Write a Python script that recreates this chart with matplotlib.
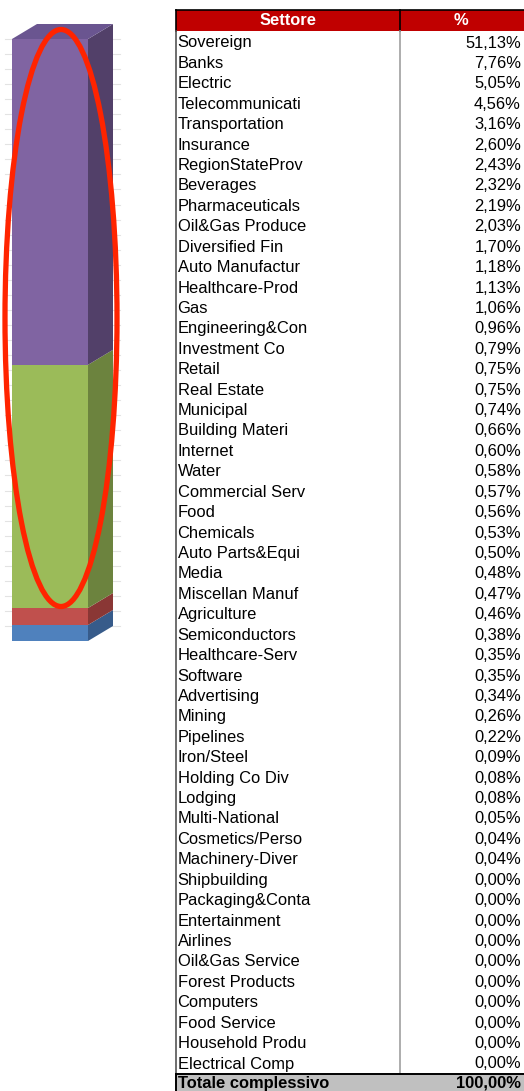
import matplotlib
matplotlib.use("Agg")
import matplotlib.pyplot as plt
from matplotlib.patches import Rectangle, Polygon, Ellipse

plt.rcParams['font.family'] = ['Liberation Sans', 'DejaVu Sans']

# ---- data ----
settori = ["Sovereign", "Banks", "Electric", "Telecommunicati", "Transportation",
           "Insurance", "RegionStateProv", "Beverages", "Pharmaceuticals",
           "Oil&Gas Produce", "Diversified Fin", "Auto Manufactur", "Healthcare-Prod",
           "Gas", "Engineering&Con", "Investment Co", "Retail", "Real Estate",
           "Municipal", "Building Materi", "Internet", "Water", "Commercial Serv",
           "Food", "Chemicals", "Auto Parts&Equi", "Media", "Miscellan Manuf",
           "Agriculture", "Semiconductors", "Healthcare-Serv", "Software",
           "Advertising", "Mining", "Pipelines", "Iron/Steel", "Holding Co Div",
           "Lodging", "Multi-National", "Cosmetics/Perso", "Machinery-Diver",
           "Shipbuilding", "Packaging&Conta", "Entertainment", "Airlines",
           "Oil&Gas Service", "Forest Products", "Computers", "Food Service",
           "Household Produ", "Electrical Comp"]
percentuali = [51.13, 7.76, 5.05, 4.56, 3.16, 2.60, 2.43, 2.32, 2.19, 2.03,
               1.70, 1.18, 1.13, 1.06, 0.96, 0.79, 0.75, 0.75, 0.74, 0.66,
               0.60, 0.58, 0.57, 0.56, 0.53, 0.50, 0.48, 0.47, 0.46, 0.38,
               0.35, 0.35, 0.34, 0.26, 0.22, 0.09, 0.08, 0.08, 0.05, 0.04,
               0.04, 0.00, 0.00, 0.00, 0.00, 0.00, 0.00, 0.00, 0.00, 0.00, 0.00]
totale_label = "Totale complessivo"
totale_valore = 100.00
header_labels = ["Settore", "%"]

# stacked bar segments (bottom to top)
bar_values = [2.66, 2.82, 40.4, 54.12]
bar_front_colors = ["#4F81BD", "#C0504D", "#9BBB59", "#8064A2"]
bar_side_colors = ["#375B8A", "#8A3735", "#6C833E", "#524069"]
bar_top_color = "#6A5590"

W, H = 524, 1091
fig = plt.figure(figsize=(W / 100, H / 100), dpi=100)

def fpix(x0, y0, x1, y1):
    # pixel box (top-left origin) -> figure fraction rect
    return [x0 / W, 1 - y1 / H, (x1 - x0) / W, (y1 - y0) / H]

# ---- bar axes: y 0 -> px 641, 100 -> px 39 ----
scale = (641 - 39) / 100.0
ax_top_px, ax_bot_px = 5, 660
axb = fig.add_axes(fpix(0, ax_top_px, 130, ax_bot_px))
axb.set_xlim(0, 130)
axb.set_ylim(-(ax_bot_px - 641) / scale, 100 + (39 - ax_top_px) / scale)
axb.axis('off')

# faint gridlines
g = 2.5
while g <= 100:
    axb.plot([5, 120], [g, g], color='#E3E3E3', lw=0.8, zorder=0)
    g += 2.5

x0, width = 12, 76
dx, dy = 25, 15 / scale
bottom = 0.0
for v, cf, cs in zip(bar_values, bar_front_colors, bar_side_colors):
    axb.bar(x0, v, width=width, bottom=bottom, align='edge', color=cf,
            edgecolor='none', zorder=3)
    x1 = x0 + width
    side = Polygon([(x1, bottom), (x1 + dx, bottom + dy),
                    (x1 + dx, bottom + v + dy), (x1, bottom + v)],
                   closed=True, facecolor=cs, edgecolor='none', zorder=3)
    axb.add_patch(side)
    bottom += v
x1 = x0 + width
top = Polygon([(x0, bottom), (x0 + dx, bottom + dy), (x1 + dx, bottom + dy), (x1, bottom)],
              closed=True, facecolor=bar_top_color, edgecolor='none', zorder=3)
axb.add_patch(top)

# ---- overlay / table axes in pixel coords ----
ax = fig.add_axes([0, 0, 1, 1])
ax.set_xlim(0, W)
ax.set_ylim(H, 0)
ax.axis('off')
ax.patch.set_visible(False)

# red ellipse
ax.add_patch(Ellipse((61, 318), 112, 577, fill=False, edgecolor='#FF2400',
                     lw=3.8, zorder=10))

tx0, tdiv, tx1 = 176, 400, 524
hdr_top, hdr_bot = 9.5, 30.5
row0 = 32.5
rh = 20.42
fs = 11.9

# header
ax.add_patch(Rectangle((tx0, hdr_top), tx1 - tx0, hdr_bot - hdr_top,
                       facecolor='#C00000', edgecolor='none', zorder=2))
ax.plot([tx0, tx1], [hdr_top, hdr_top], color='black', lw=1.2, zorder=3)
ax.plot([tx0, tx0], [hdr_top, hdr_bot], color='black', lw=1.2, zorder=3)
ax.plot([tdiv, tdiv], [hdr_top, hdr_bot], color='black', lw=1.2, zorder=3)
ax.text((tx0 + tdiv) / 2, (hdr_top + hdr_bot) / 2 + 0.5, header_labels[0], color='white',
        fontweight='bold', fontsize=fs, ha='center', va='center', zorder=4)
ax.text((tdiv + 522) / 2, (hdr_top + hdr_bot) / 2 + 0.5, header_labels[1], color='white',
        fontweight='bold', fontsize=fs, ha='center', va='center', zorder=4)

n = len(settori)
tot_top = row0 + n * rh
# borders
ax.plot([tx0, tx0], [hdr_bot, tot_top], color='#555555', lw=1.2, zorder=3)
ax.plot([tdiv, tdiv], [hdr_bot, tot_top], color='#A0A0A0', lw=1.2, zorder=3)

def fmt(v):
    return f"{v:.2f}".replace('.', ',') + '%'

for i, (s, p) in enumerate(zip(settori, percentuali)):
    yc = row0 + 10.5 + i * rh
    ax.text(tx0 + 1.5, yc, s, fontsize=fs, ha='left', va='center', color='black', zorder=4)
    ax.text(521, yc, fmt(p), fontsize=fs, ha='right', va='center', color='black', zorder=4)

# total row
ax.add_patch(Rectangle((tx0, tot_top), tx1 - tx0, H - tot_top + 2,
                       facecolor='#C0C0C0', edgecolor='none', zorder=2))
ax.plot([tx0, tx1], [tot_top, tot_top], color='black', lw=1.4, zorder=3)
ax.plot([tx0, tx0], [tot_top, H], color='black', lw=1.4, zorder=3)
ty = (tot_top + H) / 2 + 1.0
ax.text(tx0 + 1.5, ty, totale_label, fontsize=fs, fontweight='bold', ha='left',
        va='center', zorder=4)
ax.text(521, ty, fmt(totale_valore), fontsize=fs, fontweight='bold', ha='right',
        va='center', zorder=4)

fig.savefig("out.png", dpi=100)
